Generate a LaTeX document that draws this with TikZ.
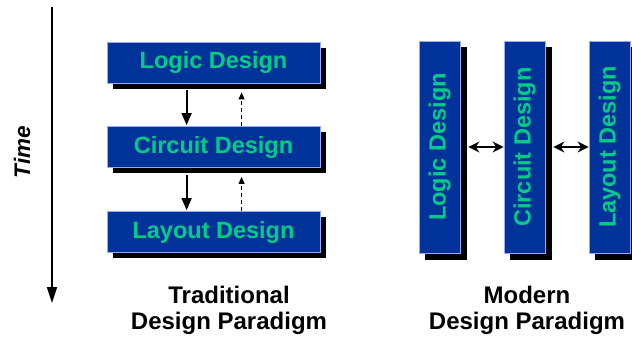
\documentclass[tikz,border=0pt]{standalone}
\usepackage{fontspec}
\setmainfont{Liberation Sans}
\usetikzlibrary{arrows.meta,calc}
\definecolor{boxblue}{RGB}{0,51,153}
\definecolor{boxedge}{RGB}{150,170,255}
\definecolor{txtgreen}{RGB}{0,204,136}
\begin{document}
\begin{tikzpicture}[x=1pt,y=-1pt,
  hbox/.style={fill=boxblue, draw=boxedge, line width=0.8pt, inner sep=0pt,
    minimum width=213pt, minimum height=41pt, text=txtgreen,
    font=\fontsize{23.5}{26}\selectfont\bfseries},
  vbox/.style={hbox, minimum width=212pt, minimum height=41pt, rotate=90},
  shad/.style={fill=black},
  solidarr/.style={line width=1.8pt, -{Triangle[length=12pt,width=10pt]}},
  dasharr/.style={line width=0.9pt, dash pattern=on 4pt off 3pt, -{Triangle[length=7pt,width=6pt]}},
  dblarr/.style={line width=1.8pt, {Stealth[length=11pt,width=11pt]}-{Stealth[length=11pt,width=11pt]}},
  caption/.style={align=center, font=\fontsize{24}{26}\selectfont\bfseries}
]
\useasboundingbox (0,0) rectangle (632,339);

% time axis
\coordinate (t0) at (52,7);
\coordinate (t1) at (52,303);
\draw[line width=2pt, -{Triangle[length=16pt,width=10pt]}] (t0) -- (t1);
\node[rotate=90, font=\fontsize{22.5}{26}\selectfont\bfseries\itshape] (time) at (22,152) {Time};

% traditional boxes (shadows first)
\path (213.5,62.5) coordinate (pL) (213.5,147) coordinate (pC) (213.5,232) coordinate (pY);
\foreach \p in {pL,pC,pY}{
  \fill[shad] ($(\p)+(-100.5,-14.5)$) rectangle ($(\p)+(112.5,26.5)$);
}
\node[hbox] (L1) at (pL) {Logic Design};
\node[hbox] (C1) at (pC) {Circuit Design};
\node[hbox] (Y1) at (pY) {Layout Design};

\draw[solidarr] ($(L1.south west)+(80,7)$) -- ($(C1.north west)+(80,-1)$);
\draw[solidarr] ($(C1.south west)+(80,7)$) -- ($(Y1.north west)+(80,-1)$);
\draw[dasharr] ($(C1.north west)+(135,0)$) -- ($(L1.south west)+(135,9)$);
\draw[dasharr] ($(Y1.north west)+(135,0)$) -- ($(C1.south west)+(135,9)$);

% modern boxes
\path (439.5,147) coordinate (mL) (524.5,147) coordinate (mC) (609.5,147) coordinate (mY);
\foreach \p in {mL,mC,mY}{
  \fill[shad] ($(\p)+(-14.5,-100)$) rectangle ($(\p)+(27.5,113)$);
}
\node[vbox] (L2) at (mL) {Logic Design};
\node[vbox] (C2) at (mC) {Circuit Design};
\node[vbox] (Y2) at (mY) {Layout Design};

\draw[dblarr] ($(L2.south)+(8,0)$) -- (C2.north);
\draw[dblarr] ($(C2.south)+(8,0)$) -- (Y2.north);

% captions
\node[caption] (trad) at (229,310) {Traditional\\Design Paradigm};
\node[caption] (mod) at (527,310) {Modern\\Design Paradigm};
\end{tikzpicture}
\end{document}
